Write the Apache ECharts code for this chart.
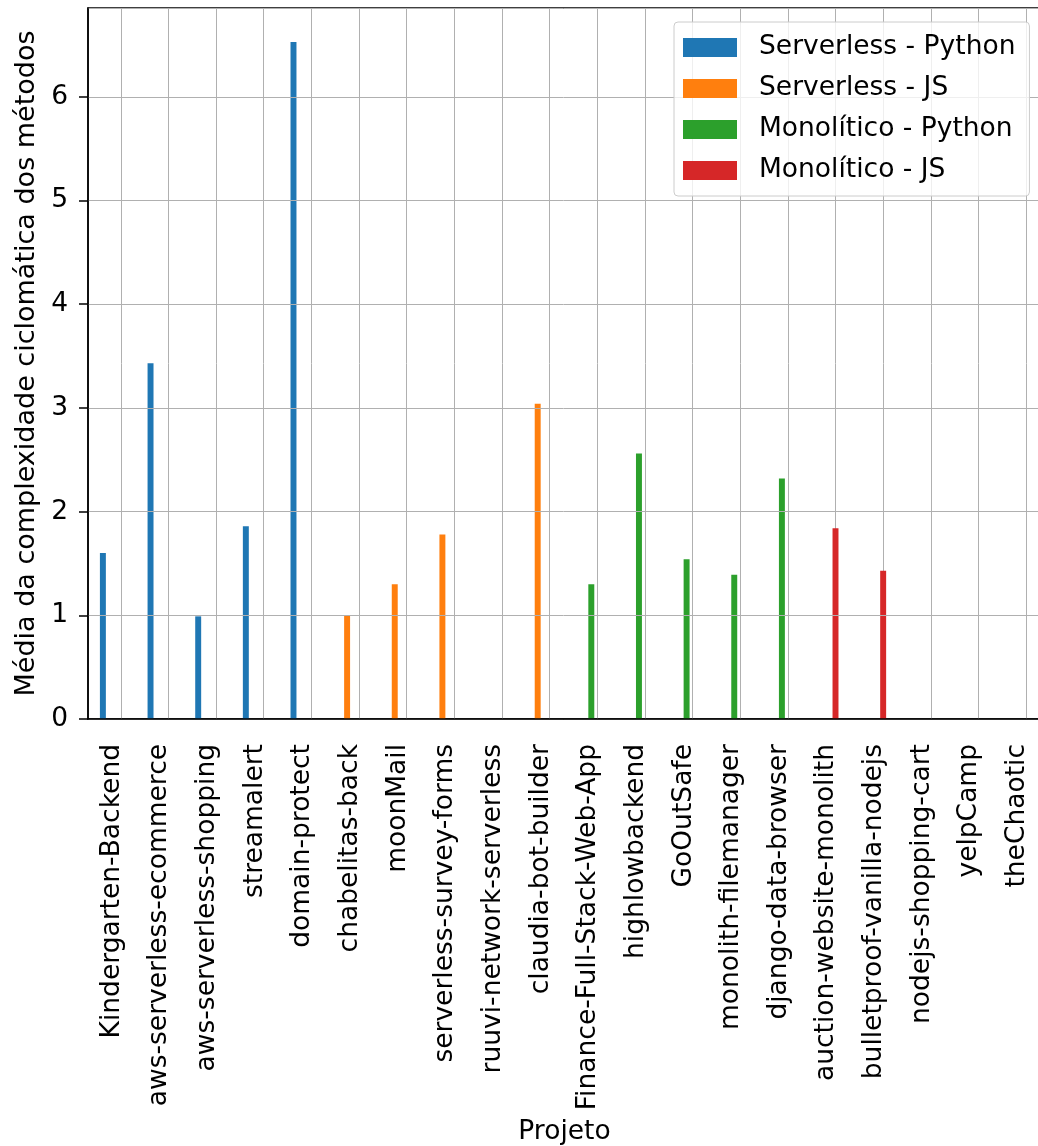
<!DOCTYPE html>
<html>
<head>
<meta charset="utf-8">
<script src="https://cdn.jsdelivr.net/npm/echarts@6/dist/echarts.min.js"></script>
<style>
	body { margin: 0; background: #fff; }
	#chart { width: 1038px; height: 1146px; }
</style>
</head>
<body>
<div id="chart"></div>
<script>
var projetos = ["Kindergarten-Backend", "aws-serverless-ecommerce", "aws-serverless-shopping", "streamalert", "domain-protect",
	"chabelitas-back", "moonMail", "serverless-survey-forms", "ruuvi-network-serverless", "claudia-bot-builder",
	"Finance-Full-Stack-Web-App", "highlowbackend", "GoOutSafe", "monolith-filemanager", "django-data-browser",
	"auction-website-monolith", "bulletproof-vanilla-nodejs", "nodejs-shopping-cart", "yelpCamp", "theChaotic"];

var serverlessPython = [1.60, 3.43, 0.99, 1.86, 6.53, null, null, null, null, null, null, null, null, null, null, null, null, null, null, null];
var serverlessJS = [null, null, null, null, null, 1.00, 1.30, 1.78, 0, 3.04, null, null, null, null, null, null, null, null, null, null];
var monoliticoPython = [null, null, null, null, null, null, null, null, null, null, 1.30, 2.56, 1.54, 1.39, 2.32, null, null, null, null, null];
var monoliticoJS = [null, null, null, null, null, null, null, null, null, null, null, null, null, null, null, 1.84, 1.43, 0, 0, 0];

var yTicks = [0, 1, 2, 3, 4, 5, 6];

var mychart = echarts.init(document.getElementById('chart'));
var fonte = 'DejaVu Sans';
var tam = 26.5;

function serie(nome, cor, dados) {
	return {
		name: nome,
		type: 'bar',
		barWidth: '12.5%',
		barGap: '0%',
		itemStyle: { color: cor },
		data: dados
	};
}

// linhas verticais da grade no centro de cada categoria
var gradeX = [];
for(var i = 0; i < projetos.length; i++) {
	gradeX.push({ xAxis: projetos[i] });
}

var series = [
	serie('Serverless - Python', '#1f77b4', serverlessPython),
	serie('Serverless - JS', '#ff7f0e', serverlessJS),
	serie('Monolítico - Python', '#2ca02c', monoliticoPython),
	serie('Monolítico - JS', '#d62728', monoliticoJS)
];
series[3].markLine = {
	silent: true,
	symbol: 'none',
	label: { show: false },
	lineStyle: { color: '#b0b0b0', width: 1, type: 'solid' },
	data: gradeX,
	z: 1
};

var option = {
	animation: false,
	textStyle: { fontFamily: fonte },
	grid: {
		left: 88, top: 8, right: -3, bottom: 427,
		outerBoundsMode: 'none',
		containLabel: false,
		show: true, borderColor: '#000', borderWidth: 1.5
	},
	legend: {
		orient: 'vertical',
		left: 674, top: 22,
		padding: [12, 14, 12, 9],
		itemWidth: 54, itemHeight: 19, itemGap: 14,
		backgroundColor: 'rgba(255,255,255,0.8)',
		borderColor: '#cccccc', borderWidth: 1, borderRadius: 4,
		icon: 'rect',
		z: 10,
		textStyle: { fontSize: tam, color: '#000', fontFamily: fonte, padding: [0, 0, 0, 17] },
		data: ['Serverless - Python', 'Serverless - JS', 'Monolítico - Python', 'Monolítico - JS']
	},
	xAxis: {
		type: 'category',
		data: projetos,
		z: 3,
		name: 'Projeto',
		nameLocation: 'middle',
		nameGap: 400,
		nameTextStyle: { fontSize: tam, color: '#000', fontFamily: fonte, verticalAlign: 'top' },
		axisLine: { lineStyle: { color: '#000', width: 1.5 } },
		axisTick: { alignWithLabel: true, length: 9, lineStyle: { color: '#000', width: 1.5 } },
		axisLabel: { rotate: 90, interval: 0, fontSize: tam, color: '#000', margin: 25, fontFamily: fonte },
		splitLine: { show: false }
	},
	yAxis: {
		type: 'value',
		min: 0,
		max: 6.857,
		interval: 1,
		z: 3,
		name: 'Média da complexidade ciclomática dos métodos',
		nameLocation: 'middle',
		nameGap: 44,
		nameTextStyle: { fontSize: 27, color: '#000', fontFamily: fonte },
		axisLine: { show: true, lineStyle: { color: '#000', width: 1.5 } },
		axisTick: { show: true, length: 9, lineStyle: { color: '#000', width: 1.5 } },
		axisLabel: {
			fontSize: tam, color: '#000', margin: 20, fontFamily: fonte, showMaxLabel: false,
			formatter: function(v) { return yTicks.indexOf(v) >= 0 ? String(v) : ''; }
		},
		splitLine: { show: true, lineStyle: { color: '#b0b0b0', width: 1 } }
	},
	series: series
};
mychart.setOption(option);
</script>
</body>
</html>
